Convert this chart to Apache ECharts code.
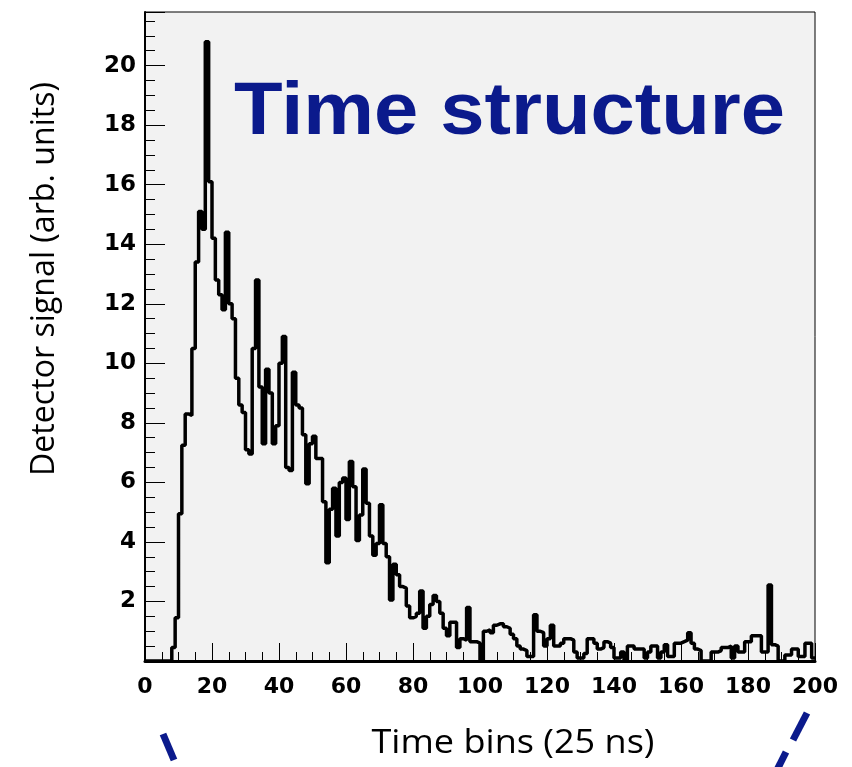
<!DOCTYPE html>
<html>
<head>
<meta charset="utf-8">
<script src="https://cdn.jsdelivr.net/npm/echarts/dist/echarts.min.js"></script>
<style>
html,body{margin:0;padding:0;background:#ffffff;}
#chart{width:852px;height:767px;}
</style>
</head>
<body>
<div id="chart"></div>
<script>
// ---- data ----
// detector signal per time bin (bin i spans [i, i+1))
const signal = [
  0, 0, 0, 0, 0, 0, 0, 0, 0.45, 1.45,
  4.95, 7.25, 8.3, 8.25, 10.5, 13.4, 15.1, 14.5, 20.8, 16.1,
  14.2, 12.8, 12.3, 11.8, 14.4, 12.0, 11.5, 9.5, 8.6, 8.35,
  7.1, 6.95, 10.5, 12.8, 9.2, 7.3, 9.8, 9.0, 7.3, 7.9,
  10.0, 10.9, 6.5, 6.4, 9.7, 8.6, 8.5, 7.6, 5.95, 7.3,
  7.55, 6.8, 6.8, 5.35, 3.3, 5.1, 5.8, 4.2, 6.0, 6.15,
  4.75, 6.7, 5.85, 4.05, 4.9, 6.45, 5.3, 4.2, 3.55, 3.95,
  5.25, 3.95, 3.5, 2.05, 3.25, 2.9, 2.5, 2.45, 1.85, 1.45,
  1.5, 1.6, 2.35, 1.1, 1.5, 1.9, 2.2, 2.0, 1.6, 1.1,
  0.85, 1.3, 1.3, 0.45, 0.75, 0.7, 1.8, 0.65, 0.65, 0.6,
  0, 1.0, 1.05, 0.95, 1.2, 1.25, 1.25, 1.15, 1.1, 0.9,
  0.75, 0.5, 0.4, 0.35, 0.15, 0.15, 1.55, 1.0, 0.95, 0.5,
  0.75, 1.2, 0.5, 0.5, 0.6, 0.75, 0.75, 0.7, 0.3, 0.1,
  0.1, 0.25, 0.75, 0.75, 0.6, 0.4, 0.45, 0.65, 0.6, 0.45,
  0.1, 0.1, 0.3, 0.0, 0.5, 0.5, 0.4, 0.4, 0.4, 0.1,
  0.3, 0.5, 0.5, 0.1, 0.3, 0.55, 0.15, 0.15, 0.6, 0.6,
  0.65, 0.7, 0.95, 0.6, 0.4, 0.35, 0, 0, 0, 0.3,
  0.3, 0.35, 0.45, 0.45, 0.5, 0.1, 0.5, 0.3, 0.3, 0.65,
  0.65, 0.85, 0.85, 0.85, 0.3, 0.3, 2.55, 0.55, 0.5, 0,
  0, 0.2, 0.2, 0.4, 0.4, 0.15, 0.15, 0.6, 0.6, 0.1
];
const xRange = [0, 200];
const yRange = [0, 21.8];
const xTickStep = 20;
const yTickStep = 2;
const titleText = 'Time structure';
const xTitleText = 'Time bins (25 ns)';
const yTitleText = 'Detector signal (arb. units)';

// ---- build ----
const histPoints = signal.map((v, i) => [i, v]);
histPoints.push([signal.length, signal[signal.length - 1]]);

function fitScale(text, font, targetWidth) {
  const ctx = document.createElement('canvas').getContext('2d');
  ctx.font = font;
  return targetWidth / ctx.measureText(text).width;
}

const navy = '#0b1a8c';
const titleFont = 'bold 74px "Liberation Sans"';
const axisTitleFont = '33px "Open Sans"';

const chart = echarts.init(document.getElementById('chart'), null, {renderer: 'canvas'});
const option = {
  animation: false,
  backgroundColor: '#ffffff',
  grid: {
    left: 145, right: 37, top: 12, bottom: 106,
    show: true, backgroundColor: '#f2f2f2', borderColor: '#000000', borderWidth: 1
  },
  xAxis: {
    type: 'value', min: xRange[0], max: xRange[1], interval: xTickStep,
    axisLine: {show: true, onZero: false, lineStyle: {color: '#000', width: 3}},
    axisTick: {show: true, inside: true, length: 18, lineStyle: {color: '#000', width: 1}},
    minorTick: {show: true, splitNumber: 4, length: 9, lineStyle: {color: '#000', width: 1}},
    splitLine: {show: false},
    axisLabel: {
      margin: 15, color: '#000', fontFamily: 'DejaVu Sans', fontWeight: 'bold', fontSize: 22
    }
  },
  yAxis: {
    type: 'value', min: yRange[0], max: yRange[1], interval: yTickStep,
    axisLine: {show: true, onZero: false, lineStyle: {color: '#000', width: 2}},
    axisTick: {show: true, inside: true, length: 20, lineStyle: {color: '#000', width: 1}},
    minorTick: {show: true, splitNumber: 4, length: 10, lineStyle: {color: '#000', width: 1}},
    splitLine: {show: false},
    axisLabel: {
      margin: 9, color: '#000', fontFamily: 'DejaVu Sans', fontWeight: 'bold', fontSize: 23,
      formatter: function (v) {
        return (v > 0 && Math.abs(v % yTickStep) < 1e-9) ? String(v) : '';
      }
    }
  },
  series: [{
    type: 'line',
    step: 'end',
    data: histPoints,
    symbol: 'none',
    lineStyle: {color: '#000', width: 3.5},
    clip: true,
    z: 5
  }],
  graphic: [
    {
      type: 'text', x: 509.5, y: 114, z: 100,
      scaleX: fitScale(titleText, titleFont, 551),
      style: {text: titleText, font: titleFont, fill: navy,
              align: 'center', verticalAlign: 'middle', textAlign: 'center', textVerticalAlign: 'middle'}
    },
    {
      type: 'text', x: 513, y: 744, z: 100,
      scaleX: fitScale(xTitleText, axisTitleFont, 283),
      style: {text: xTitleText, font: axisTitleFont, fill: '#000',
              align: 'center', verticalAlign: 'middle', textAlign: 'center', textVerticalAlign: 'middle'}
    },
    {
      type: 'text', x: 45, y: 279, z: 100, rotation: Math.PI / 2,
      scaleX: fitScale(yTitleText, axisTitleFont, 394),
      style: {text: yTitleText, font: axisTitleFont, fill: '#000',
              align: 'center', verticalAlign: 'middle', textAlign: 'center', textVerticalAlign: 'middle'}
    },
    {type: 'line', z: 100, shape: {x1: 163, y1: 734, x2: 174, y2: 760}, style: {stroke: navy, lineWidth: 7}},
    {type: 'line', z: 100, shape: {x1: 807, y1: 713, x2: 793, y2: 740}, style: {stroke: navy, lineWidth: 7}},
    {type: 'line', z: 100, shape: {x1: 786, y1: 752, x2: 777, y2: 770}, style: {stroke: navy, lineWidth: 7}}
  ]
};
chart.setOption(option);
</script>
</body>
</html>
